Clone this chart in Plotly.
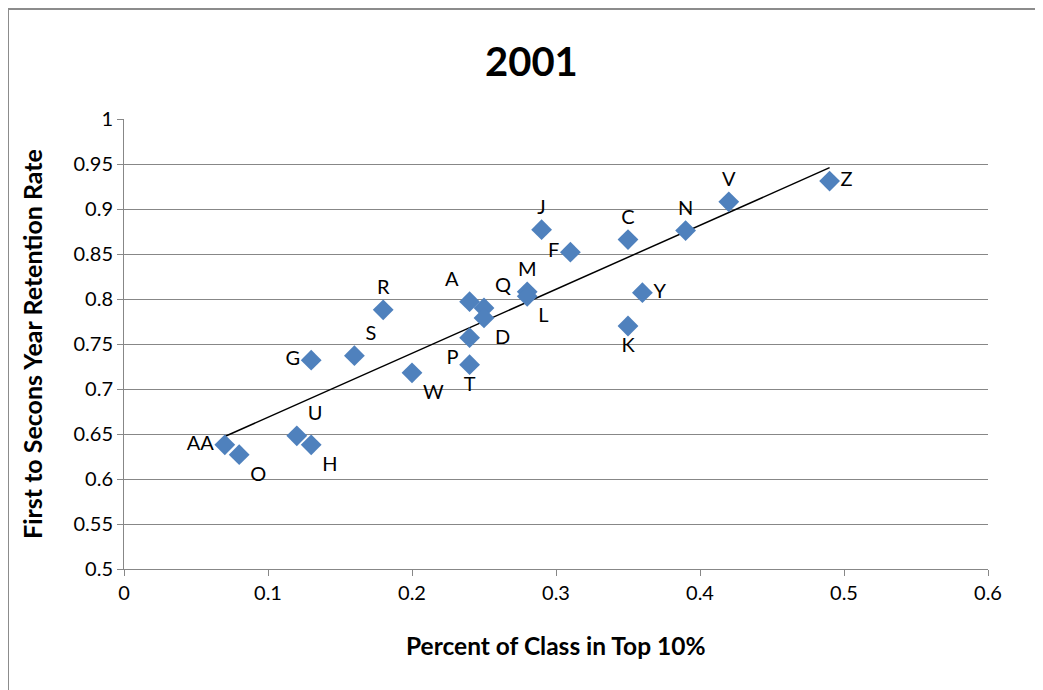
import numpy as np
import plotly.graph_objects as go

# data
labels = ["AA", "O", "U", "H", "G", "S", "R", "W", "A", "Q", "D", "P", "T",
          "M", "L", "J", "F", "C", "K", "Y", "N", "V", "Z"]
top10_pct = [0.07, 0.08, 0.12, 0.13, 0.13, 0.16, 0.18, 0.20, 0.24, 0.25, 0.25, 0.24, 0.24,
             0.28, 0.28, 0.29, 0.31, 0.35, 0.35, 0.36, 0.39, 0.42, 0.49]
retention = [0.638, 0.627, 0.648, 0.638, 0.732, 0.737, 0.788, 0.718, 0.797, 0.790, 0.779, 0.757, 0.727,
             0.808, 0.803, 0.877, 0.852, 0.866, 0.770, 0.807, 0.876, 0.908, 0.931]
label_pos = ["middle left", "bottom right", "top right", "bottom right", "middle left",
             "top right", "top center", "bottom right", "top left", "top right",
             "bottom right", "bottom left", "bottom center", "top center", "bottom right",
             "top center", "middle left", "top center", "bottom center", "middle right",
             "top center", "top center", "middle right"]

FONT = "Lato, Liberation Sans, sans-serif"
GRID = "#878787"

# linear trendline, like Excel's
slope, intercept = np.polyfit(top10_pct, retention, 1)
trend_x = [min(top10_pct), max(top10_pct)]
trend_y = [slope * v + intercept for v in trend_x]

fig = go.Figure()

fig.add_trace(go.Scatter(x=trend_x, y=trend_y, mode='lines',
                         line=dict(color='black', width=1.5),
                         hoverinfo='skip', showlegend=False))

fig.add_trace(go.Scatter(x=top10_pct, y=retention, mode='markers+text',
                         text=labels, textposition=label_pos,
                         textfont=dict(family=FONT, size=20, color='black'),
                         marker=dict(symbol='diamond', size=16, color='#4F81BD',
                                     line=dict(width=0)),
                         showlegend=False))

# the page body adds 8px around the figure, so margins are shifted to compensate
fig.update_layout(
    width=1043, height=690,
    margin=dict(l=116, r=63, t=111, b=129),
    paper_bgcolor='white', plot_bgcolor='white',
    font=dict(family=FONT, size=20, color='black'),
    showlegend=False,
)

fig.update_xaxes(range=[0, 0.6], dtick=0.1, tickformat='~g',
                 showgrid=False, zeroline=False,
                 showline=True, linecolor=GRID, linewidth=1,
                 ticks='outside', ticklen=6, tickcolor=GRID,
                 tickfont=dict(size=20), fixedrange=True)
fig.update_yaxes(range=[0.5, 1], dtick=0.05, tickformat='~g',
                 showgrid=True, gridcolor=GRID, gridwidth=1, zeroline=False,
                 showline=True, linecolor=GRID, linewidth=1,
                 ticks='outside', ticklen=6, tickcolor=GRID,
                 tickfont=dict(size=20), fixedrange=True)

# title and axis titles
fig.add_annotation(text="<b>2001</b>", xref='paper', yref='paper',
                   x=(531 - 124) / 864, y=1 + 58 / 450, showarrow=False,
                   font=dict(size=40), xanchor='center', yanchor='middle')
fig.add_annotation(text="<b>Percent of Class in Top 10%</b>", xref='paper', yref='paper',
                   x=0.5, y=-76 / 450, showarrow=False,
                   font=dict(size=24.5), xanchor='center', yanchor='middle')
fig.add_annotation(text="<b>First to Secons Year Retention Rate</b>", xref='paper', yref='paper',
                   x=-92 / 864, y=0.5, showarrow=False, textangle=-90,
                   font=dict(size=25), xanchor='center', yanchor='middle')

# chart area border (only left and top edges are in view)
fig.add_shape(type='rect', xref='paper', yref='paper',
              x0=-116 / 864, y0=-140 / 450, x1=1.2, y1=1 + 110 / 450,
              line=dict(color='#8c8c8c', width=2))

fig.write_html("out.html")
